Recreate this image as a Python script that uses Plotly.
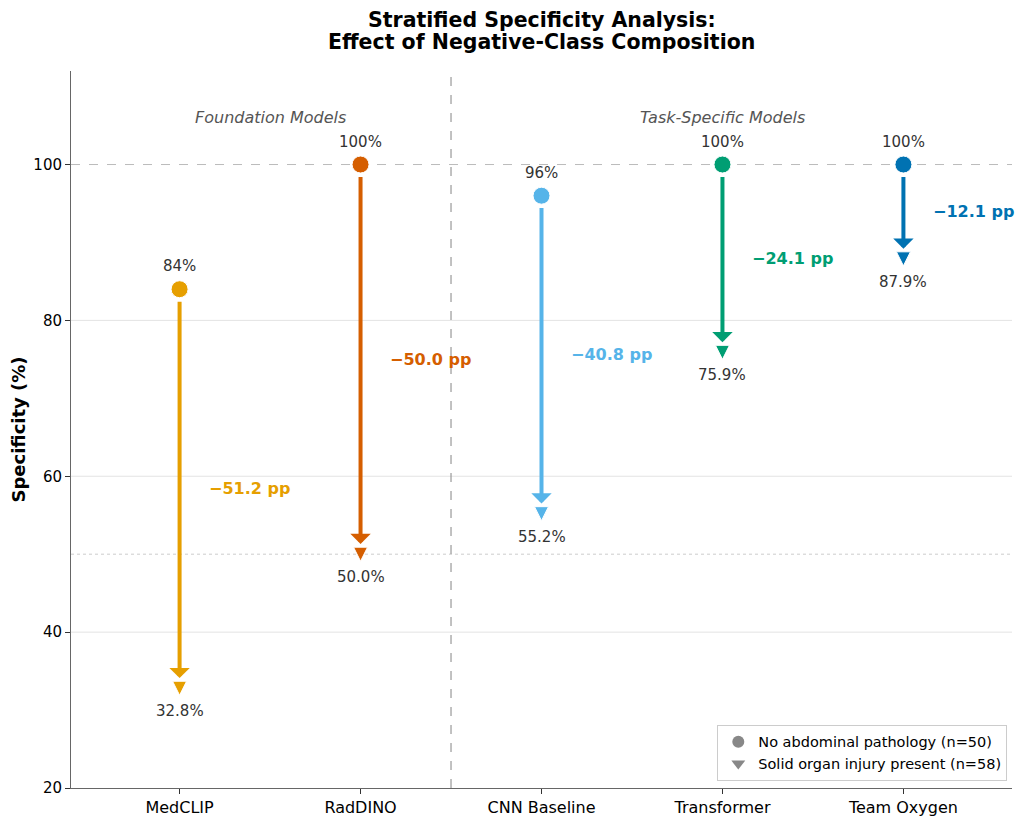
import plotly.graph_objects as go

models = ["MedCLIP", "RadDINO", "CNN Baseline", "Transformer", "Team Oxygen"]
spec_no_path = [84.0, 100.0, 96.0, 100.0, 100.0]
spec_injury = [32.8, 50.0, 55.2, 75.9, 87.9]
colors = ["#E69F00", "#D55E00", "#56B4E9", "#009E73", "#0072B2"]
groups = ["Foundation Models", "Task-Specific Models"]
group_centers = [0.5, 3.0]
yticks = [20, 40, 60, 80, 100]
grid_levels = [40, 60, 80]
ref_perfect = 100
ref_chance = 50
title_lines = ["Stratified Specificity Analysis:", "Effect of Negative-Class Composition"]

FONT = "DejaVu Sans"
xs = list(range(len(models)))
TRI = 14  # triangle marker size (px)

fig = go.Figure()

shapes = []
for g in grid_levels:
    shapes.append(dict(type="line", xref="paper", x0=0, x1=1, yref="y", y0=g, y1=g,
                       line=dict(color="#E3E3E3", width=1), layer="below"))
shapes += [
    dict(type="line", xref="paper", x0=0, x1=1, yref="y", y0=ref_perfect, y1=ref_perfect,
         line=dict(color="#BBBBBB", width=1, dash="dash"), layer="below"),
    dict(type="line", xref="paper", x0=0, x1=1, yref="y", y0=ref_chance, y1=ref_chance,
         line=dict(color="#CCCCCC", width=1, dash="dot"), layer="below"),
    dict(type="line", xref="x", x0=1.5, x1=1.5, yref="paper", y0=0, y1=1,
         line=dict(color="#999999", width=1.2, dash="dash"), layer="below"),
]

annotations = []
for i, (m, hi, lo, c) in enumerate(zip(models, spec_no_path, spec_injury, colors)):
    annotations.append(dict(
        x=i, y=lo + 1.3, ax=i, ay=hi - 1.4, xref="x", yref="y", axref="x", ayref="y",
        showarrow=True, arrowhead=1, arrowsize=0.85, arrowwidth=4, arrowcolor=c, text="",
    ))
    annotations.append(dict(x=i, y=hi, xref="x", yref="y", text=f"{hi:.0f}%", showarrow=False,
                            yshift=23, font=dict(family=FONT, size=15, color="#333333")))
    annotations.append(dict(x=i, y=lo, xref="x", yref="y", text=f"{lo:.1f}%", showarrow=False,
                            yshift=-23, font=dict(family=FONT, size=15, color="#333333")))
    annotations.append(dict(x=i + 0.15, y=(hi + lo) / 2, xref="x", yref="y",
                            text=f"<b>\u2212{hi - lo:.1f} pp</b>", showarrow=False,
                            xanchor="left", font=dict(family=FONT, size=16, color=c)))

for g, gx in zip(groups, group_centers):
    annotations.append(dict(x=gx, y=106, xref="x", yref="y", text=f"<i>{g}</i>", showarrow=False,
                            font=dict(family=FONT, size=16, color="#555555")))

for t, ty in zip(title_lines, [1.0711, 1.0404]):
    annotations.append(dict(x=0.5, y=ty, xref="paper", yref="paper", text=f"<b>{t}</b>",
                            showarrow=False, xanchor="center", yanchor="middle",
                            font=dict(family=FONT, size=20.5, color="black")))

fig.add_trace(go.Scatter(x=xs, y=spec_no_path, mode="markers",
                         marker=dict(symbol="circle", size=17, color=colors,
                                     line=dict(color="white", width=1)),
                         showlegend=False, hoverinfo="skip"))
fig.add_trace(go.Scatter(x=xs, y=spec_injury, mode="markers",
                         marker=dict(symbol="arrow-down", size=TRI, standoff=TRI / 2, color=colors,
                                     line=dict(color="white", width=1)),
                         showlegend=False, hoverinfo="skip"))
fig.add_trace(go.Scatter(x=[None], y=[None], mode="markers",
                         marker=dict(symbol="circle", size=15, color="#888888"),
                         name="No abdominal pathology (n=50)"))
fig.add_trace(go.Scatter(x=[None], y=[None], mode="markers",
                         marker=dict(symbol="triangle-down", size=14, color="#888888"),
                         name="Solid organ injury present (n=58)"))

fig.update_layout(
    width=1015, height=817,
    margin=dict(l=63, r=11, t=63, b=37),
    paper_bgcolor="white", plot_bgcolor="white",
    font=dict(family=FONT, size=14, color="black"),
    xaxis=dict(range=[-0.6, 4.6], tickmode="array", tickvals=xs, ticktext=models,
               showgrid=False, zeroline=False, showline=True, linecolor="#666666", linewidth=1,
               ticks="outside", ticklen=5, tickcolor="#333333", tickfont=dict(size=16),
               automargin=False),
    yaxis=dict(range=[20, 112], tickmode="array", tickvals=yticks,
               showgrid=False, zeroline=False,
               showline=True, linecolor="#666666", linewidth=1,
               ticks="outside", ticklen=5, tickcolor="#333333", tickfont=dict(size=15),
               title=dict(text="<b>Specificity (%)</b>", font=dict(size=18), standoff=8),
               automargin=False),
    legend=dict(x=0.995, y=0.01, xanchor="right", yanchor="bottom",
                bgcolor="rgba(255,255,255,0.9)", bordercolor="#CCCCCC", borderwidth=1,
                font=dict(size=14.5), itemsizing="constant"),
    shapes=shapes, annotations=annotations,
)

fig.write_html("out.html")
